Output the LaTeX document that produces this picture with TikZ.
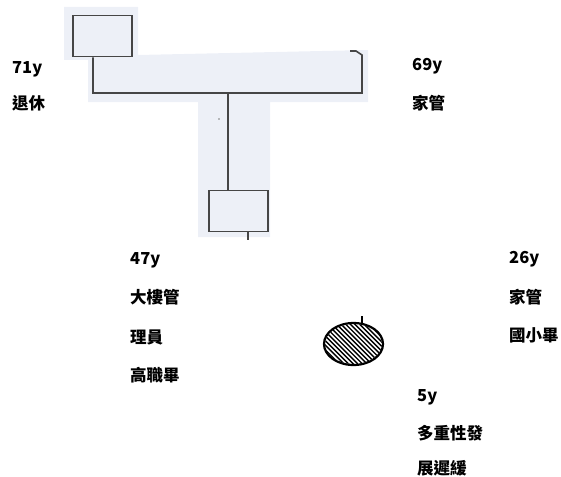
\documentclass[tikz,border=0pt]{standalone}
\usepackage{fontspec}
\newfontfamily\cjk{Noto Sans CJK TC}[BoldFont={Noto Sans CJK TC Black}]
\usetikzlibrary{shapes.geometric}
\definecolor{bgblue}{RGB}{237,240,247}
\definecolor{linegray}{RGB}{70,70,70}
\tikzset{
  person/.style={draw=linegray, line width=1.6pt, fill=bgblue, rectangle, minimum width=59pt, minimum height=41pt, inner sep=0pt},
  link/.style={draw=linegray, line width=1.6pt},
  lbl/.style={anchor=base west, inner sep=0pt, font=\cjk\bfseries\fontsize{16.5}{19}\selectfont},
}
\begin{document}
\begin{tikzpicture}[x=1pt,y=-1pt]
\useasboundingbox (0,0) rectangle (561,476);
% scanned highlight background
\fill[bgblue] (64,7) -- (138,7) -- (138,55) -- (368,50) -- (368,102) -- (270,102) -- (270,237)
  -- (198,237) -- (198,102) -- (88,102) -- (88,60) -- (64,60) -- cycle;
\fill[linegray!70] (219,119) circle (0.9);
% persons
\node[person] (gf) at (102.5,36) {};
\node[person] (fa) at (238.5,211) {};
\node[draw=black, line width=2.2pt, ellipse, minimum width=59pt, minimum height=42pt, inner sep=0pt] (ch) at (353.5,344) {};
\begin{scope}
  \clip (353.5,344) ellipse (28.5 and 20);
  \foreach \k in {-80,-75.4,...,80} {
    \draw[black, line width=1.4pt] (353.5+\k-40,304) -- (353.5+\k+40,384);
  }
\end{scope}
% connectors
\coordinate (ml) at (93,93);
\coordinate (mr) at (362,93);
\coordinate (rt) at (362,55);
\coordinate (rk) at (356,51);
\coordinate (rk2) at (350,51);
\coordinate (md) at (228,93);
\coordinate (stub) at (248,240);
\coordinate (et) at (362,316);
\coordinate (eb) at (362,324);
\draw[link] ([xshift=-9.5pt]gf.south) -- (ml) -- (mr) -- (rt) -- (rk) -- (rk2);
\draw[link] (md) -- ([xshift=-10.5pt]fa.north);
\draw[link] ([xshift=9.5pt]fa.south) -- (stub);
\draw[black, line width=1.6pt] (et) -- (eb);
% labels
\node[lbl] (l1a) at (12,74) {71y};
\node[lbl] (l1b) at (12,109) {退休};
\node[lbl] (l2a) at (412,71) {69y};
\node[lbl] (l2b) at (412,109) {家管};
\node[lbl] (l3a) at (130,264) {47y};
\node[lbl] (l3b) at (130,303) {大樓管};
\node[lbl] (l3c) at (130,343) {理員};
\node[lbl] (l3d) at (130,381) {高職畢};
\node[lbl] (l4a) at (509,263) {26y};
\node[lbl] (l4b) at (509,303) {家管};
\node[lbl] (l4c) at (509,341) {國小畢};
\node[lbl] (l5a) at (417,401) {5y};
\node[lbl] (l5b) at (417,439) {多重性發};
\node[lbl] (l5c) at (417,474) {展遲緩};
\end{tikzpicture}
\end{document}
